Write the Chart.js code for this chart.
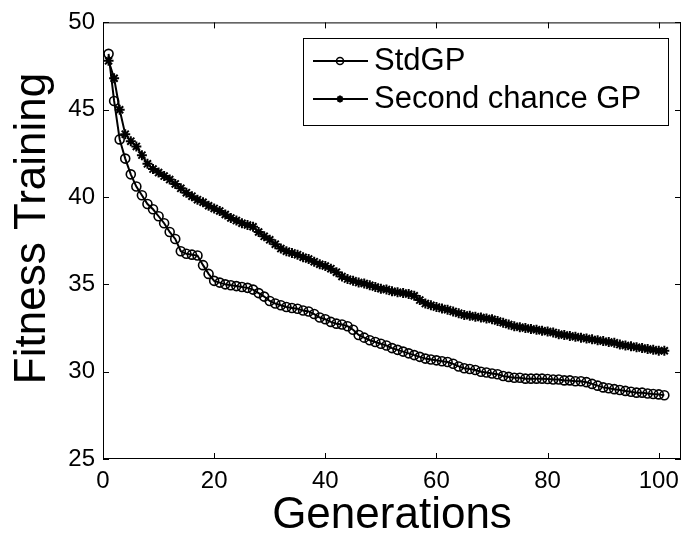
<!DOCTYPE html>
<html>
<head>
    <title>Fitness Training</title>
    <script src="https://cdn.jsdelivr.net/npm/chart.js"></script>
    <style>
        html, body { margin: 0; padding: 0; background: #fff; }
        #wrap { width: 688px; height: 542px; }
    </style>
</head>
<body>
    <div id="wrap"><canvas id="fitnessChart" width="688" height="542"></canvas></div>
    <script>
        // generations 1..101
        const generations = [
            1, 2, 3, 4, 5, 6, 7, 8, 9, 10, 11, 12, 13, 14, 15, 16, 17, 18, 19, 20,
            21, 22, 23, 24, 25, 26, 27, 28, 29, 30, 31, 32, 33, 34, 35, 36, 37, 38, 39, 40,
            41, 42, 43, 44, 45, 46, 47, 48, 49, 50, 51, 52, 53, 54, 55, 56, 57, 58, 59, 60,
            61, 62, 63, 64, 65, 66, 67, 68, 69, 70, 71, 72, 73, 74, 75, 76, 77, 78, 79, 80,
            81, 82, 83, 84, 85, 86, 87, 88, 89, 90, 91, 92, 93, 94, 95, 96, 97, 98, 99, 100, 101
        ];

        const stdGP = [
            48.2, 45.5, 43.3, 42.2, 41.3, 40.6, 40.1, 39.6, 39.3, 38.9,
            38.5, 38.0, 37.6, 36.9, 36.75, 36.7, 36.65, 36.1, 35.6, 35.2,
            35.1, 35.0, 34.95, 34.9, 34.85, 34.8, 34.7, 34.5, 34.3, 34.05,
            33.9, 33.8, 33.7, 33.65, 33.6, 33.5, 33.45, 33.3, 33.1, 33.0,
            32.85, 32.75, 32.7, 32.6, 32.4, 32.1, 31.95, 31.8, 31.7, 31.6,
            31.5, 31.35, 31.25, 31.15, 31.05, 30.95, 30.85, 30.75, 30.7, 30.65,
            30.6, 30.55, 30.45, 30.3, 30.2, 30.15, 30.1, 30.0, 29.95, 29.9,
            29.85, 29.75, 29.7, 29.65, 29.65, 29.6, 29.6, 29.6, 29.6, 29.58,
            29.55, 29.55, 29.5, 29.5, 29.45, 29.45, 29.4, 29.3, 29.2, 29.1,
            29.05, 29.0, 28.95, 28.9, 28.85, 28.8, 28.8, 28.75, 28.72, 28.7, 28.65
        ];

        const secondChanceGP = [
            47.8, 46.8, 45.0, 43.6, 43.2, 42.9, 42.4, 41.9, 41.6, 41.4,
            41.2, 41.0, 40.75, 40.5, 40.25, 40.05, 39.85, 39.7, 39.5, 39.35,
            39.2, 39.0, 38.8, 38.65, 38.5, 38.4, 38.3, 38.0, 37.75, 37.55,
            37.3, 37.05, 36.9, 36.8, 36.7, 36.55, 36.45, 36.3, 36.15, 36.05,
            35.9, 35.7, 35.45, 35.3, 35.2, 35.1, 35.05, 34.95, 34.85, 34.75,
            34.7, 34.6, 34.55, 34.5, 34.45, 34.35, 34.1, 33.9, 33.8, 33.7,
            33.62, 33.55, 33.45, 33.35, 33.25, 33.2, 33.15, 33.1, 33.05, 33.0,
            32.9, 32.8, 32.7, 32.6, 32.55, 32.5, 32.45, 32.4, 32.35, 32.3,
            32.25, 32.15, 32.1, 32.05, 32.0, 31.95, 31.9, 31.85, 31.8, 31.75,
            31.7, 31.65, 31.55, 31.5, 31.45, 31.4, 31.35, 31.3, 31.25, 31.2, 31.2
        ];

        const xTicks = [0, 20, 40, 60, 80, 100];
        const yTicks = [25, 30, 35, 40, 45, 50];

        const FONT = "'Liberation Sans', Arial, Helvetica, sans-serif";

        // box around the axes, inward ticks, and the matlab-style legend
        const boxPlugin = {
            id: 'boxPlugin',
            afterDraw(chart) {
                const { ctx, chartArea: a, scales: { x, y } } = chart;
                ctx.save();
                ctx.strokeStyle = '#000';
                ctx.lineWidth = 1;
                ctx.strokeRect(a.left + 0.5, a.top + 0.5, a.right - a.left - 1, a.bottom - a.top - 1);
                ctx.beginPath();
                xTicks.forEach(v => {
                    const px = Math.round(x.getPixelForValue(v)) + 0.5;
                    ctx.moveTo(px, a.bottom); ctx.lineTo(px, a.bottom - 6);
                    ctx.moveTo(px, a.top); ctx.lineTo(px, a.top + 6);
                });
                yTicks.forEach(v => {
                    const py = Math.round(y.getPixelForValue(v)) + 0.5;
                    ctx.moveTo(a.left, py); ctx.lineTo(a.left + 6, py);
                    ctx.moveTo(a.right, py); ctx.lineTo(a.right - 6, py);
                });
                ctx.stroke();

                // legend
                const lx = 303, ly = 38, lw = 365, lh = 87;
                ctx.fillStyle = '#fff';
                ctx.fillRect(lx, ly, lw, lh);
                ctx.strokeRect(lx + 0.5, ly + 0.5, lw, lh);
                const rows = [61, 99];
                chart.data.datasets.forEach((ds, i) => {
                    const ry = rows[i];
                    ctx.strokeStyle = '#000';
                    ctx.lineWidth = 2;
                    ctx.beginPath();
                    ctx.moveTo(313, ry); ctx.lineTo(368, ry);
                    ctx.stroke();
                    ctx.fillStyle = 'rgba(0,0,0,0)';
                    ctx.lineWidth = ds.pointBorderWidth;
                    Chart.helpers.drawPoint(ctx, {
                        pointStyle: ds.pointStyle, radius: 3.5, rotation: 0, borderWidth: ds.pointBorderWidth
                    }, 340, ry);
                    ctx.fillStyle = '#000';
                    ctx.font = '31px ' + FONT;
                    ctx.textBaseline = 'middle';
                    ctx.textAlign = 'left';
                    ctx.fillText(ds.label, 374, ry);
                });
                ctx.restore();
            }
        };

        const ctx = document.getElementById('fitnessChart').getContext('2d');
        new Chart(ctx, {
            type: 'line',
            data: {
                datasets: [{
                    label: 'StdGP',
                    data: generations.map((g, i) => ({ x: g, y: stdGP[i] })),
                    borderColor: '#000',
                    borderWidth: 2,
                    pointStyle: 'circle',
                    pointRadius: 4.5,
                    pointBorderWidth: 1.6,
                    pointBorderColor: '#000',
                    pointBackgroundColor: 'rgba(0,0,0,0)',
                    fill: false,
                    tension: 0
                }, {
                    label: 'Second chance GP',
                    data: generations.map((g, i) => ({ x: g, y: secondChanceGP[i] })),
                    borderColor: '#000',
                    borderWidth: 2,
                    pointStyle: 'star',
                    pointRadius: 5,
                    pointBorderWidth: 2,
                    pointBorderColor: '#000',
                    pointBackgroundColor: '#000',
                    fill: false,
                    tension: 0
                }]
            },
            options: {
                responsive: false,
                animation: false,
                layout: { padding: { top: 17, right: 1, left: 0, bottom: 0 } },
                plugins: {
                    legend: { display: false },
                    tooltip: { enabled: false }
                },
                scales: {
                    x: {
                        type: 'linear',
                        min: 0,
                        max: 104,
                        grid: { display: false, drawTicks: false },
                        border: { display: false },
                        afterBuildTicks: s => { s.ticks = xTicks.map(v => ({ value: v })); },
                        afterFit: s => { s.height = 83; },
                        ticks: { color: '#000', padding: 8, maxRotation: 0, font: { family: FONT, size: 24 } },
                        title: {
                            display: true,
                            text: 'Generations',
                            color: '#000',
                            padding: { top: 0, bottom: 0 },
                            font: { family: FONT, size: 44 }
                        }
                    },
                    y: {
                        min: 25,
                        max: 50,
                        grid: { display: false, drawTicks: false },
                        border: { display: false },
                        afterBuildTicks: s => { s.ticks = yTicks.map(v => ({ value: v })); },
                        afterFit: s => { s.width = 103; },
                        ticks: { color: '#000', padding: 8, font: { family: FONT, size: 24 } },
                        title: {
                            display: true,
                            text: '  Fitness Training',
                            color: '#000',
                            padding: { top: 6, bottom: 0 },
                            font: { family: FONT, size: 44 }
                        }
                    }
                }
            },
            plugins: [boxPlugin]
        });
    </script>
</body>
</html>
